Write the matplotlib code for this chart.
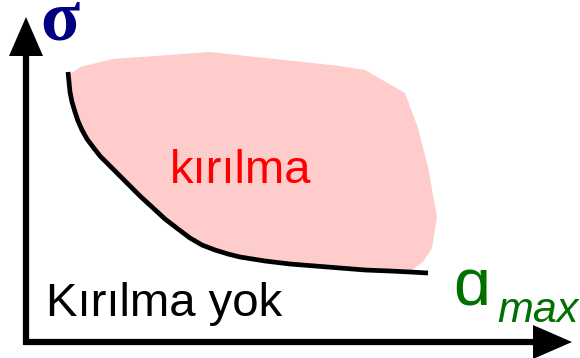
import matplotlib
matplotlib.use("Agg")
import matplotlib.pyplot as plt
from matplotlib.patches import Polygon

# boundary curve (pixel-like coordinates, y grows downward)
curve_x = [68, 69, 70, 72, 75, 78, 82, 87, 93, 100, 110, 120, 130, 140, 152, 165,
           178, 190, 202, 215, 228, 240, 265, 290, 315, 340, 365, 390, 410, 428]
curve_y = [72, 82, 92, 102, 112, 121, 130, 139, 147, 156, 166, 176, 186, 196, 207, 219,
           229, 238, 245, 250, 254, 257, 261, 264, 266, 268, 270, 271, 272, 273]

# upper/right edge of the fracture region
edge_x = [412, 423, 432, 437, 428, 418, 405, 365, 340, 210, 113, 80, 72]
edge_y = [270, 262, 248, 217, 167, 128, 93, 70, 66, 52, 59, 67, 73]

fig = plt.figure(figsize=(5.8, 3.58), dpi=100)
ax = fig.add_axes([0, 0, 1, 1])
ax.set_xlim(0, 580)
ax.set_ylim(358, 0)
ax.axis("off")

# pink region: edge + curve back
px = edge_x + curve_x
py = edge_y + curve_y
ax.add_patch(Polygon(list(zip(px, py)), closed=True, fc="#ffcccc", ec="none"))

ax.plot(curve_x, curve_y, color="black", lw=3.4, solid_capstyle="butt",
        solid_joinstyle="round")

# axes with arrow heads
ax.plot([26, 26], [345, 50], color="black", lw=4.5, solid_capstyle="butt")
ax.plot([24, 540], [342, 342], color="black", lw=4.5, solid_capstyle="butt")
ax.add_patch(Polygon([(9, 56), (26, 17), (43, 56)], closed=True, fc="black", ec="none"))
ax.add_patch(Polygon([(533, 325), (572, 342), (533, 359)], closed=True, fc="black", ec="none"))

ax.text(40, 39, "σ", color="#000080", fontsize=52, family="Liberation Serif",
        weight="bold", ha="left", va="baseline")
ax.text(170, 183, "kırılma", color="red", fontsize=34, family="Liberation Sans",
        ha="left", va="baseline")
ax.text(46, 316, "Kırılma yok", color="black", fontsize=34, family="Liberation Sans",
        ha="left", va="baseline")
ax.text(453, 306, "ɑ", color="#007000", fontsize=48, family=["Liberation Sans", "DejaVu Sans"],
        ha="left", va="baseline")
ax.text(497, 322, "max", color="#007000", fontsize=31, family="Liberation Sans",
        style="italic", ha="left", va="baseline")

fig.savefig("out.png", dpi=100)
